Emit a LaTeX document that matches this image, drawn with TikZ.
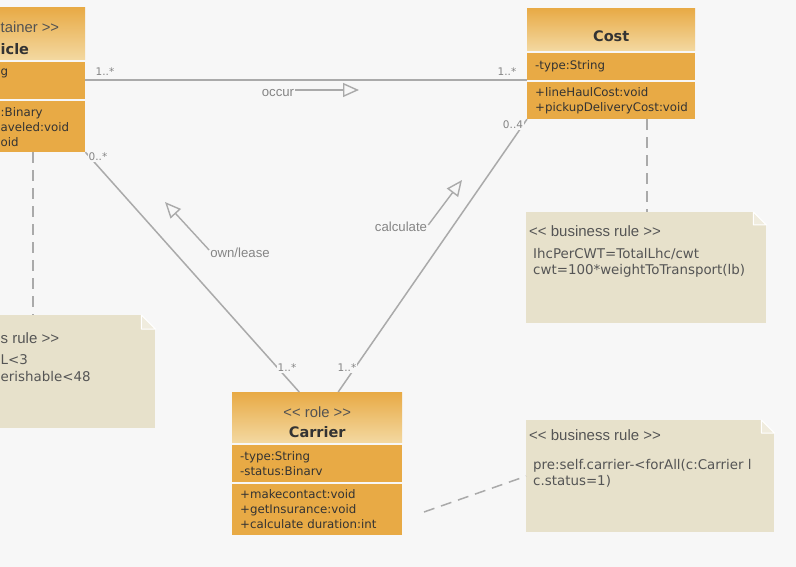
\documentclass[tikz,border=0pt]{standalone}
\usepackage{fontspec}
\setmainfont{DejaVu Sans}
\newfontfamily\arialfont{Liberation Sans}
\usepackage{tikz}
\usetikzlibrary{arrows.meta}
\usetikzlibrary{positioning}

\begin{document}
\begin{tikzpicture}[x=1pt, y=-1pt,
    klkopf/.style={rectangle, inner sep=0pt, anchor=north west, top color=orangedunkel, bottom color=orangehell},
    zeile/.style={inner sep=0pt, text=klassetext, font=\fontsize{11.8}{15}\selectfont},
    klteil/.style={zeile, rectangle, inner xsep=8pt, inner ysep=0pt, fill=orangedunkel, align=left},
    stereo/.style={inner sep=0pt, text=klassetext!85, font=\arialfont\fontsize{14.8}{16}\selectfont},
    titel/.style={inner sep=0pt, text=klassetext, font=\bfseries\fontsize{14.5}{17}\selectfont},
    notiz/.style={rectangle, inner sep=0pt, anchor=north west, fill=notizfarbe},
    falz/.style={fill=falzfarbe, draw=white, line width=1pt, line join=round},
    notizkopf/.style={anchor=west, inner sep=0pt, text=notiztext, font=\arialfont\fontsize{15}{17}\selectfont},
    notiztxt/.style={anchor=west, inner sep=0pt, align=left, text=notiztext, font=\fontsize{13.4}{16}\selectfont},
    kante/.style={draw=linie, line width=1.5pt},
    anmerk/.style={draw=linie, line width=1.5pt, dash pattern=on 11pt off 7pt},
    pfeil/.style={draw=linie, line width=1.4pt, -{Triangle[open, length=16pt, width=14pt]}},
    mult/.style={fill=hgrund, inner sep=1pt, text=beschrift, font=\fontsize{10.5}{12}\selectfont},
    rolle/.style={inner sep=1pt, text=beschrift, font=\arialfont\fontsize{13.2}{15}\selectfont}
]

    % Farben
    \definecolor{hgrund}{HTML}{F7F7F7}
    \definecolor{orangedunkel}{HTML}{E8AA45}
    \definecolor{orangehell}{HTML}{F3D8A0}
    \definecolor{klassetext}{HTML}{333333}
    \definecolor{notizfarbe}{HTML}{E7E1CB}
    \definecolor{falzfarbe}{HTML}{F0ECDE}
    \definecolor{notiztext}{HTML}{555555}
    \definecolor{linie}{HTML}{AAAAAA}
    \definecolor{beschrift}{HTML}{858585}

    % Rahmen
    \useasboundingbox (0,0) rectangle (796,567);
    \clip (0,0) rectangle (796,567);
    \fill[hgrund] (0,0) rectangle (796,567);

    % Klasse Vehicle (links abgeschnitten)
    \node[klkopf, minimum width=185pt, minimum height=52pt] (vehH) at (-100,7) {};
    \node[klteil, text width=169pt, minimum height=37pt, below=2pt of vehH] (vehA) {};
    \node[klteil, text width=169pt, minimum height=51pt, below=2pt of vehA] (vehM) {};
    \node[stereo, anchor=west] (vehS) at (0.5,27) {tainer >{}>};
    \node[titel, anchor=west] (vehT) at (0.5,49) {icle};
    \node[zeile, anchor=west] (vehA1) at (0.5,73) {g};
    \node[zeile, anchor=west] (vehM1) at (0.5,113) {:Binary};
    \node[zeile, anchor=west] (vehM2) at (0.5,127) {aveled:void};
    \node[zeile, anchor=west] (vehM3) at (0.5,142) {oid};

    % Klasse Cost
    \node[klkopf, minimum width=168pt, minimum height=42pt] (costH) at (527,8) {};
    \node[titel] (costT) at ([yshift=-28pt]costH.north) {Cost};
    \node[klteil, text width=152pt, minimum height=27pt, below=2pt of costH] (costA) {-type:String};
    \node[klteil, text width=152pt, minimum height=37pt, below=2pt of costA] (costM) {+lineHaulCost:void\\+pickupDeliveryCost:void};

    % Klasse Carrier
    \node[klkopf, minimum width=170pt, minimum height=50pt] (carH) at (232,392) {};
    \node[stereo] (carS) at ([yshift=-20pt]carH.north) {<{}< role >{}>};
    \node[titel] (carT) at ([yshift=-40pt]carH.north) {Carrier};
    \node[klteil, text width=154pt, minimum height=37pt, below=2pt of carH] (carA) {-type:String\\-status:Binarv};
    \node[klteil, text width=154pt, minimum height=51pt, below=2pt of carA] (carM) {+makecontact:void\\+getInsurance:void\\+calculate duration:int};

    % Notizen
    \node[notiz, minimum width=255pt, minimum height=113pt] (regel1) at (-100,315) {};
    \node[notiz, minimum width=240pt, minimum height=111pt] (regel2) at (526,212) {};
    \node[notiz, minimum width=248pt, minimum height=112pt] (regel3) at (526,420) {};

    % Eselsohren
    \fill[hgrund] ([xshift=-14pt]regel1.north east) -- (regel1.north east) -- ([yshift=-14pt]regel1.north east) -- cycle;
    \filldraw[falz] ([xshift=-14pt]regel1.north east) -- ([xshift=-14pt,yshift=-14pt]regel1.north east) -- ([yshift=-14pt]regel1.north east) -- cycle;
    \fill[hgrund] ([xshift=-13pt]regel2.north east) -- (regel2.north east) -- ([yshift=-13pt]regel2.north east) -- cycle;
    \filldraw[falz] ([xshift=-13pt]regel2.north east) -- ([xshift=-13pt,yshift=-13pt]regel2.north east) -- ([yshift=-13pt]regel2.north east) -- cycle;
    \fill[hgrund] ([xshift=-13pt]regel3.north east) -- (regel3.north east) -- ([yshift=-13pt]regel3.north east) -- cycle;
    \filldraw[falz] ([xshift=-13pt]regel3.north east) -- ([xshift=-13pt,yshift=-13pt]regel3.north east) -- ([yshift=-13pt]regel3.north east) -- cycle;

    % Notiztexte
    \node[notizkopf] (r1K) at (0.5,338) {s rule >{}>};
    \node[notiztxt] (r1a) at (0.5,360) {L<3};
    \node[notiztxt] (r1b) at (0.5,377) {erishable<48};
    \node[notizkopf] (r2K) at (529,231) {<{}< business rule >{}>};
    \node[notiztxt] (r2T) at (533,263) {IhcPerCWT=TotalLhc/cwt\\cwt=100*weightToTransport(lb)};
    \node[notizkopf] (r3K) at (529,435) {<{}< business rule >{}>};
    \node[notiztxt] (r3T) at (533,473) {pre:self.carrier-<forAll(c:Carrier l\\c.status=1)};

    % Assoziationen
    \draw[kante] (vehA.east) -- (vehA.east -| costA.west);
    \draw[kante] (vehM.south east) -- ([xshift=-18pt]carH.north);
    \draw[kante] ([xshift=21pt]carH.north) -- (costM.south west);

    % Multiplizitaeten
    \node[mult, fill=none] (m1) at (105,72) {1..*};
    \node[mult, fill=none] (m2) at (507,72) {1..*};
    \node[mult] (m3) at (98,157) {0..*};
    \node[mult] (m4) at (287,368) {1..*};
    \node[mult] (m5) at (347,368) {1..*};
    \node[mult] (m6) at (513,125) {0..4};

    % Rollen mit Leserichtung
    \node[rolle] (occur) at (278,93) {occur};
    \node[rolle] (own) at (240,253) {own/lease};
    \node[rolle] (calc) at (401,227) {calculate};
    \coordinate (occurSpitze) at (359,90);
    \coordinate (ownSpitze) at (165,202);
    \coordinate (calcSpitze) at (462,180);
    \draw[pfeil] (occur.east |- occurSpitze) -- (occurSpitze);
    \draw[pfeil] ([yshift=3pt]own.west) -- (ownSpitze);
    \draw[pfeil] ([yshift=2pt]calc.east) -- (calcSpitze);

    % Anmerkungslinien
    \coordinate (vehFuss) at ([xshift=40.5pt]vehM.south);
    \coordinate (costFuss) at ([xshift=36pt]costM.south);
    \coordinate (carEnde) at (424,512);
    \draw[anmerk] (vehFuss) -- (vehFuss |- regel1.north);
    \draw[anmerk] (costFuss) -- (costFuss |- regel2.north);
    \draw[anmerk] (carEnde) -- (regel3.west);

\end{tikzpicture}
\end{document}
